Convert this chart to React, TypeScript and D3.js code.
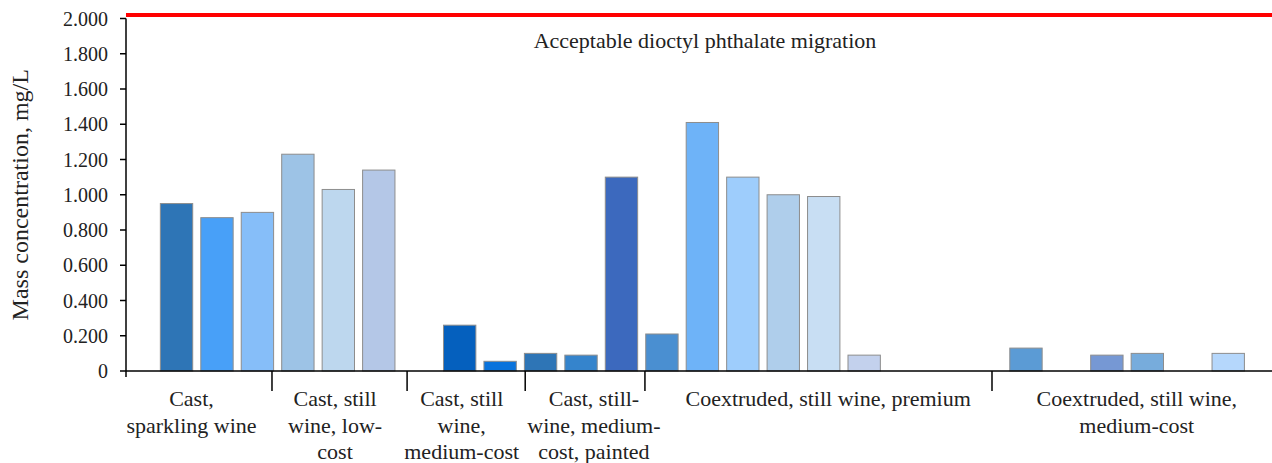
import { useEffect } from "react";
import * as d3 from "d3";

const WIDTH = 1272;
const HEIGHT = 463;

// one entry per bar slot, null = empty slot
const values: (number | null)[] = [
  0.95, 0.87, 0.9, 1.23, 1.03, 1.14, null, 0.26, 0.055, 0.1, 0.09, 1.1, 0.21,
  1.41, 1.1, 1.0, 0.99, 0.09, null, null, null, 0.13, null, 0.09, 0.1, null,
  0.1, null,
];

const colors: string[] = [
  "#2E75B6", "#48A0F8", "#86BEF9", "#9DC3E6", "#BDD7EE", "#B4C7E7", "#FFFFFF",
  "#0560BE", "#0A73DC", "#2E75B6", "#3584CC", "#3C69BE", "#4A8FD1", "#6EB3F8",
  "#9ECDFC", "#AFCEEB", "#C8DEF3", "#C3D1ED", "#FFFFFF", "#FFFFFF", "#FFFFFF",
  "#5B9BD5", "#FFFFFF", "#7698D4", "#77ACDC", "#FFFFFF", "#B5D7FC", "#FFFFFF",
];

// group tick edges and label centres, in slot units
const groupEdges = [-0.75, 2.86, 6.2, 9.12, 12.08, 20.66];
const groupLabels: { center: number; lines: string[] }[] = [
  { center: 0.87, lines: ["Cast,", "sparkling wine"] },
  { center: 4.42, lines: ["Cast, still", "wine, low-", "cost"] },
  { center: 7.55, lines: ["Cast, still", "wine,", "medium-cost"] },
  { center: 10.82, lines: ["Cast, still-", "wine, medium-", "cost, painted"] },
  { center: 16.61, lines: ["Coextruded, still wine, premium"] },
  { center: 24.24, lines: ["Coextruded, still wine,", "medium-cost"] },
];

const yTicks = [0, 0.2, 0.4, 0.6, 0.8, 1.0, 1.2, 1.4, 1.6, 1.8, 2.0];
const LIMIT = 2.02;
const LIMIT_LABEL = "Acceptable dioctyl phthalate migration";

const FONT = "'Liberation Serif', 'Times New Roman', serif";

export default function App() {
  useEffect(() => {
    document.body.style.margin = "0";
  }, []);

  const axisX = 126;
  const xScale = d3.scaleLinear().domain([0, 1]).range([156.3, 156.3 + 40.45]);
  const yScale = d3.scaleLinear().domain([0, 2]).range([371, 18.5]);
  const fmt = (v: number) => (v === 0 ? "0" : d3.format(".3f")(v));
  const y0 = yScale(0);

  return (
    <svg width={WIDTH} height={HEIGHT} style={{ display: "block" }} fontFamily={FONT}>
      {/* bars */}
      {values.map((v, i) =>
        v === null ? null : (
          <rect
            key={i}
            x={xScale(i + 0.1)}
            width={xScale(i + 0.9) - xScale(i + 0.1)}
            y={yScale(v)}
            height={y0 - yScale(v)}
            fill={colors[i]}
            stroke="#8d8d8d"
            strokeWidth={1}
          />
        )
      )}

      {/* limit line */}
      <line
        x1={axisX}
        x2={WIDTH}
        y1={yScale(LIMIT)}
        y2={yScale(LIMIT)}
        stroke="#FF0000"
        strokeWidth={4}
      />
      <text
        x={(axisX + WIDTH) / 2 + 6}
        y={yScale(LIMIT) + 33}
        textAnchor="middle"
        fontSize={22}
        fill="#222"
      >
        {LIMIT_LABEL}
      </text>

      {/* y axis */}
      <line x1={axisX} x2={axisX} y1={yScale(2)} y2={y0 + 6} stroke="#000" strokeWidth={1.5} />
      {yTicks.map((t) => (
        <g key={t}>
          <line x1={axisX - 6} x2={axisX} y1={yScale(t)} y2={yScale(t)} stroke="#000" strokeWidth={1.5} />
          <text x={axisX - 18} y={yScale(t)} dy="0.35em" textAnchor="end" fontSize={20} fill="#222">
            {fmt(t)}
          </text>
        </g>
      ))}
      <text
        transform={`translate(28, ${(yScale(2) + y0) / 2}) rotate(-90)`}
        textAnchor="middle"
        fontSize={24}
        fill="#222"
      >
        Mass concentration, mg/L
      </text>

      {/* x axis */}
      <line x1={axisX} x2={WIDTH} y1={y0} y2={y0} stroke="#000" strokeWidth={1.5} />
      {groupEdges.slice(1).map((e, i) => (
        <line key={i} x1={xScale(e)} x2={xScale(e)} y1={y0} y2={y0 + 20} stroke="#000" strokeWidth={1.5} />
      ))}
      {groupLabels.map((g, i) => (
        <text key={i} textAnchor="middle" fontSize={22} fill="#222">
          {g.lines.map((l, j) => (
            <tspan key={j} x={xScale(g.center)} y={406 + j * 26.6}>
              {l}
            </tspan>
          ))}
        </text>
      ))}
    </svg>
  );
}
